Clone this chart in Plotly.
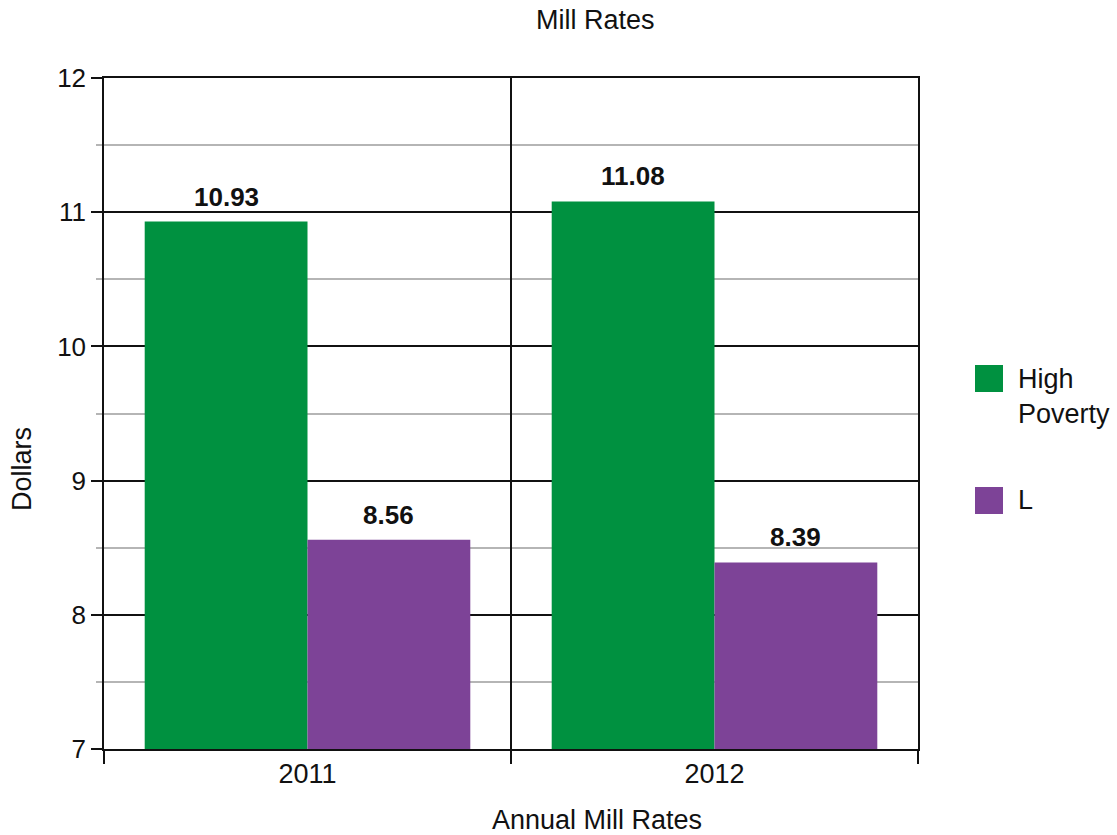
import plotly.graph_objects as go

# Annual mill rates by district group
years = ["2011", "2012"]
high_poverty = [10.93, 11.08]
low_poverty = [8.56, 8.39]
series_names = ["High<br>Poverty", "L"]

GREEN = "#009140"
PURPLE = "#7D4397"
FONT = "Liberation Sans, Arial, sans-serif"
TXT = "#111111"

fig = go.Figure()
fig.add_bar(x=years, y=high_poverty, marker_color=GREEN, marker_line_width=0,
            showlegend=False)
fig.add_bar(x=years, y=low_poverty, marker_color=PURPLE, marker_line_width=0,
            showlegend=False)

fig.update_layout(
    width=1117, height=835,
    margin=dict(l=104, r=199, t=78, b=86),
    paper_bgcolor="white", plot_bgcolor="white",
    barmode="group", bargap=0.2, bargroupgap=0,
    font=dict(family=FONT, size=27, color=TXT),
    showlegend=False,
)

fig.update_yaxes(
    range=[7, 12], dtick=1, tick0=7,
    showgrid=True, gridcolor="#111", gridwidth=1.5,
    showline=True, linecolor="#111", linewidth=1.5, mirror=True,
    ticks="outside", ticklen=11, tickcolor="#111", tickwidth=1.5,
    tickfont=dict(size=26), zeroline=False,
    minor=dict(dtick=0.5, showgrid=True, gridcolor="#b5b5b5", gridwidth=1.5,
               ticks="outside", ticklen=6, tickcolor="#b5b5b5", tickwidth=1.5),
)
fig.update_xaxes(
    type="category", categoryorder="array", categoryarray=years,
    range=[-0.5, len(years) - 0.5], tickson="boundaries",
    showgrid=True, gridcolor="#111", gridwidth=1.5,
    showline=True, linecolor="#111", linewidth=1.5, mirror=True,
    ticks="outside", ticklen=13, tickcolor="#111", tickwidth=1.5,
    tickfont=dict(size=27),
)

# Value labels above each bar; within a category the two bars sit a quarter
# of the category width to either side (bargap 0.2 -> offset 0.2)
bar_offset = 0.2
for values, off in [(high_poverty, -bar_offset), (low_poverty, bar_offset)]:
    for i, v in enumerate(values):
        fig.add_annotation(text=f"<b>{v:.2f}</b>", x=i + off, y=v, xref="x", yref="y",
                           yshift=8, showarrow=False,
                           xanchor="center", yanchor="bottom",
                           font=dict(size=26, color=TXT))

def px_x(p):
    return (p - 104) / 814

def px_y(p):
    return (749 - p) / 671

# Titles
fig.add_annotation(text="Mill Rates", xref="paper", yref="paper",
                   x=px_x(595), y=px_y(20), showarrow=False,
                   xanchor="center", yanchor="middle", font=dict(size=27))
fig.add_annotation(text="Annual Mill Rates", xref="paper", yref="paper",
                   x=px_x(597), y=px_y(820), showarrow=False,
                   xanchor="center", yanchor="middle", font=dict(size=27))
fig.add_annotation(text="Dollars", xref="paper", yref="paper",
                   x=px_x(22), y=px_y(469), showarrow=False, textangle=-90,
                   xanchor="center", yanchor="middle", font=dict(size=27))

# Legend swatches and labels
for name, color, top, label_y in [(series_names[0], GREEN, 365, 396),
                                  (series_names[1], PURPLE, 487, 500)]:
    fig.add_shape(type="rect", xref="paper", yref="paper",
                  x0=px_x(975), x1=px_x(1003), y0=px_y(top + 27), y1=px_y(top),
                  fillcolor=color, line_width=0)
    fig.add_annotation(text=name, xref="paper", yref="paper",
                       x=px_x(1016), y=px_y(label_y), showarrow=False,
                       xanchor="left", yanchor="middle", align="left",
                       font=dict(size=27))

fig.write_html("out.html")
